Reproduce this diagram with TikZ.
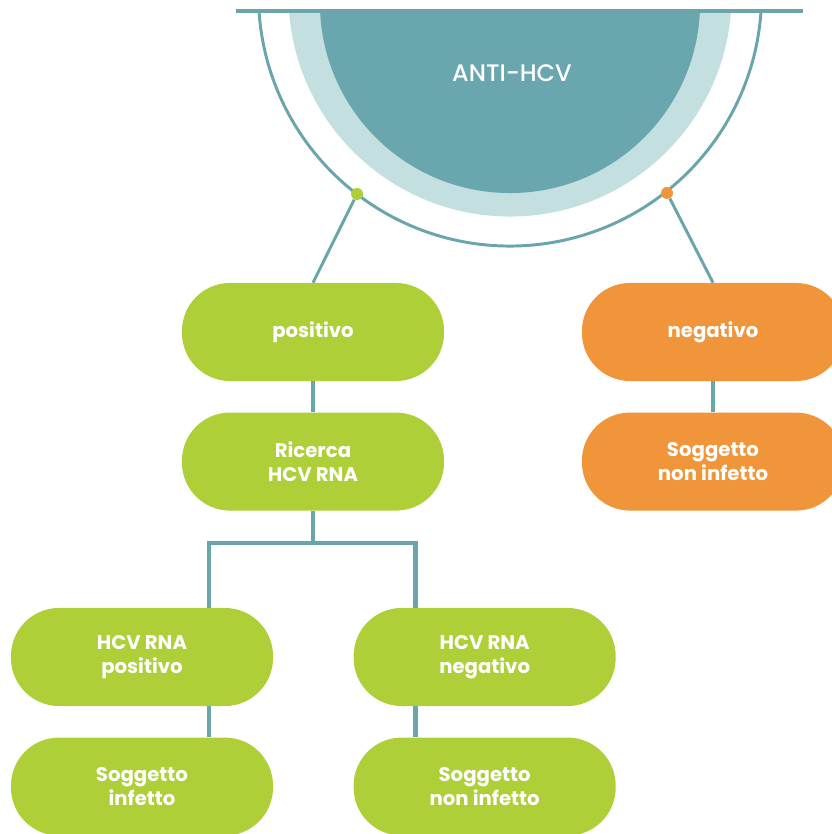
\documentclass[tikz,border=0pt]{standalone}
\usepackage{fontspec}
\setmainfont{Poppins}
\newfontfamily\titlefont{Poppins}[UprightFont=* Medium]
\usepackage{tikz}
\usetikzlibrary{positioning, calc}
\definecolor{hcvteal}{HTML}{6AA5AC}
\definecolor{hcvdark}{HTML}{69A6AE}
\definecolor{hcvlight}{HTML}{C3DFE0}
\definecolor{hcvgreen}{HTML}{AECF38}
\definecolor{hcvorange}{HTML}{F1953B}
\tikzstyle{box} = [rectangle, rounded corners=1.2cm, minimum width=6.55cm, minimum height=2.45cm, inner sep=0pt, align=center, text=white, font=\fontsize{14}{17}\selectfont\bfseries]
\tikzstyle{verde} = [box, fill=hcvgreen]
\tikzstyle{arancio} = [box, fill=hcvorange]
\tikzstyle{pallino} = [circle, minimum size=0.3cm, inner sep=0pt]
\tikzstyle{stelo} = [draw=hcvteal, line width=2.1pt]
\tikzstyle{ramo} = [draw=hcvteal, line width=3.2pt]

\begin{document}
\begin{tikzpicture}[x=0.025cm, y=0.025cm]
        \useasboundingbox (0,0) rectangle (832,834);
        % half disc
        \begin{scope}
            \clip (0,0) rectangle (832,821);
            \fill[hcvlight] (510,839) circle [radius=5.5375cm];
            \fill[hcvdark] (510,831) circle [radius=4.75cm];
        \end{scope}
        \node (anti) [text=white, font=\titlefont\fontsize{17}{20}\selectfont] at (512,761) {ANTI-HCV};
        \draw[stelo] (259,823) arc[start angle=183.76, end angle=356.24, radius=6.2875cm];
        \draw[stelo, line width=2.8pt] (236,823) -- (803,823);
        \node (dotPos) [pallino, fill=hcvgreen] at (357,640) {};
        \node (dotNeg) [pallino, fill=hcvorange] at (667,641) {};

        \node (positivo) [verde] at (313,502) {positivo};
        \node (ricerca) [verde, below=7.75mm of positivo] {Ricerca\\HCV RNA};
        \node (negativo) [arancio] at (713,502) {negativo};
        \node (nonInfA) [arancio, below=7.75mm of negativo] {Soggetto\\non infetto};
        \node (rnaPos) [verde] at (142,177) {HCV RNA\\positivo};
        \node (rnaNeg) [verde, right=2cm of rnaPos] {HCV RNA\\negativo};
        \node (infetto) [verde, below=7.75mm of rnaPos] {Soggetto\\infetto};
        \node (nonInfB) [verde, below=7.75mm of rnaNeg] {Soggetto\\non infetto};

        \coordinate (split) at ($(ricerca.south)+(0,-32)$);
        \draw [stelo] (dotPos) -- (positivo.north);
        \draw [stelo] (dotNeg) -- (negativo.north);
        \draw [ramo] (positivo.south) -- (ricerca.north);
        \draw [ramo] (negativo.south) -- (nonInfA.north);
        \draw [ramo] (ricerca.south) -- (split);
        \draw [ramo] ($(rnaPos.north)+(67,0)$) |- (split) -| ($(rnaNeg.north)+(-69,0)$);
        \draw [ramo] ($(rnaPos.south)+(67,0)$) -- ($(infetto.north)+(67,0)$);
        \draw [ramo] ($(rnaNeg.south)+(-69,0)$) -- ($(nonInfB.north)+(-69,0)$);
\end{tikzpicture}
\end{document}
